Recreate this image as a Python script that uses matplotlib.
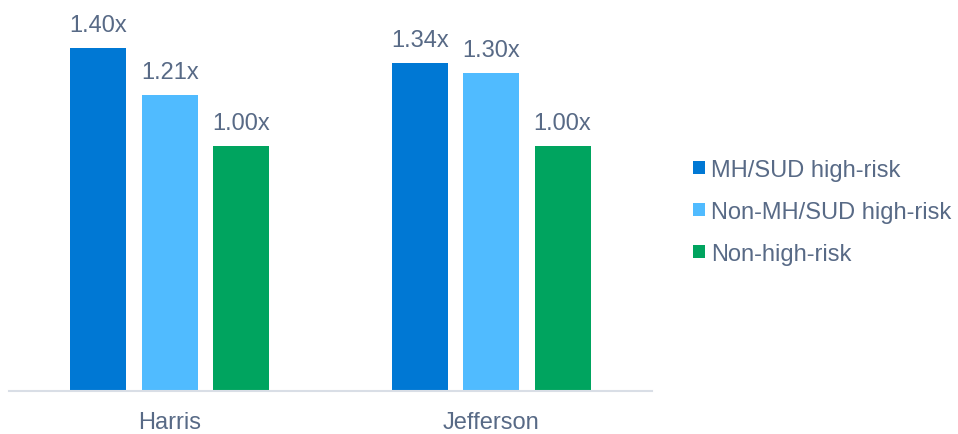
import matplotlib
matplotlib.use("Agg")
import matplotlib.pyplot as plt
import numpy as np
from matplotlib.patches import Patch

categories = ["Harris", "Jefferson"]
series_names = ["MH/SUD high-risk", "Non-MH/SUD high-risk", "Non-high-risk"]
mh_sud = [1.40, 1.34]
non_mh_sud = [1.21, 1.30]
non_high = [1.00, 1.00]
labels = [["1.40x", "1.34x"], ["1.21x", "1.30x"], ["1.00x", "1.00x"]]

colors = ["#0078D4", "#50BBFF", "#00A45F"]
text_color = "#586A86"

plt.rcParams["font.family"] = ["Liberation Sans", "DejaVu Sans"]

fig = plt.figure(figsize=(9.58, 4.35), dpi=100)
ax = fig.add_axes([9/958, 43/435, 643/958, 392/435])

x = np.arange(len(categories))
width = 0.174
step = 0.222
for i, (vals, c) in enumerate(zip([mh_sud, non_mh_sud, non_high], colors)):
    pos = x + (i - 1) * step
    bars = ax.bar(pos, vals, width=width, color=c, zorder=2)
    for b, lab in zip(bars, labels[i]):
        ax.annotate(lab, (b.get_x() + b.get_width()/2, b.get_height()),
                    xytext=(0, 8.5), textcoords="offset points",
                    ha="center", va="bottom", fontsize=17, color=text_color)

ax.set_xlim(-0.5, 1.5)
ax.set_ylim(0, 1.6)
ax.set_xticks(x)
ax.set_xticklabels(categories, fontsize=17, color=text_color)
ax.tick_params(axis="x", length=0, pad=14.5)
ax.set_yticks([])
for s in ["top", "right", "left"]:
    ax.spines[s].set_visible(False)
ax.spines["bottom"].set_color("#D9DEE6")
ax.spines["bottom"].set_linewidth(1.5)

handles = [Patch(facecolor=c, label=n) for c, n in zip(colors, series_names)]
leg = fig.legend(handles=handles, loc="center left", bbox_to_anchor=(672/958, 1 - 213/435),
                 frameon=False, fontsize=17, handlelength=0.5, handleheight=0.5,
                 handletextpad=0.25, labelspacing=0.85, labelcolor=text_color)

fig.savefig("out.png", dpi=100)
